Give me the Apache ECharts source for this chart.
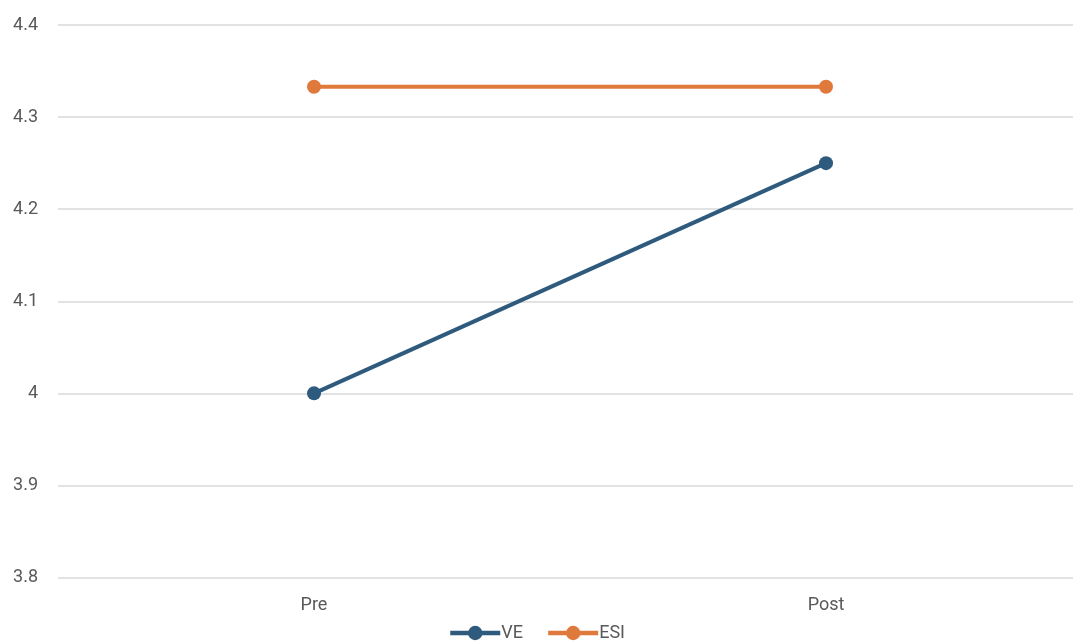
<!DOCTYPE html>
<html>
<head>
<meta charset="utf-8">
<style>
  html, body { margin: 0; padding: 0; background: #fff; }
  #chart { width: 1073px; height: 644px; }
</style>
<script src="https://cdn.jsdelivr.net/npm/echarts@6/dist/echarts.min.js"></script>
</head>
<body>
<div id="chart"></div>
<script>
// Phases on the x axis
const phases = ['Pre', 'Post'];
// Mean scores per group
const veScores = [4.0, 4.25];
const esiScores = [4.333, 4.333];
// Value axis range
const yMin = 3.8;
const yMax = 4.4;
const yStep = 0.1;

const chart = echarts.init(document.getElementById('chart'));
const font = 'Roboto, "Helvetica Neue", Arial, sans-serif';
const textColor = '#595959';

chart.setOption({
  animation: false,
  grid: { left: 58, right: -9, top: 25, bottom: 66.5, outerBoundsMode: 'none', containLabel: false },
  legend: {
    bottom: -3,
    left: 'center',
    itemWidth: 50,
    itemHeight: 18,
    itemGap: 23,
    lineStyle: { width: 4.5 },
    textStyle: { color: textColor, fontSize: 18, fontFamily: font, padding: [0, 0, 0, -4] },
    data: ['VE', 'ESI']
  },
  xAxis: {
    type: 'category',
    data: phases,
    boundaryGap: true,
    axisLine: { show: false },
    axisTick: { show: false },
    axisLabel: { color: textColor, fontSize: 18, fontFamily: font, margin: 19 }
  },
  yAxis: {
    type: 'value',
    min: yMin,
    max: yMax,
    interval: yStep,
    axisLine: { show: false },
    axisTick: { show: false },
    axisLabel: {
      color: textColor, fontSize: 18, fontFamily: font, margin: 20,
      formatter: v => String(Math.round(v * 10) / 10)
    },
    splitLine: { lineStyle: { color: '#d9d9d9', width: 1.5 } }
  },
  series: [
    {
      name: 'VE', type: 'line', data: veScores,
      symbol: 'circle', symbolSize: 14,
      lineStyle: { color: '#2E5A7E', width: 4 },
      itemStyle: { color: '#2E5A7E' }
    },
    {
      name: 'ESI', type: 'line', data: esiScores,
      symbol: 'circle', symbolSize: 14,
      lineStyle: { color: '#DF7A3C', width: 4 },
      itemStyle: { color: '#DF7A3C' }
    }
  ]
});
</script>
</body>
</html>
